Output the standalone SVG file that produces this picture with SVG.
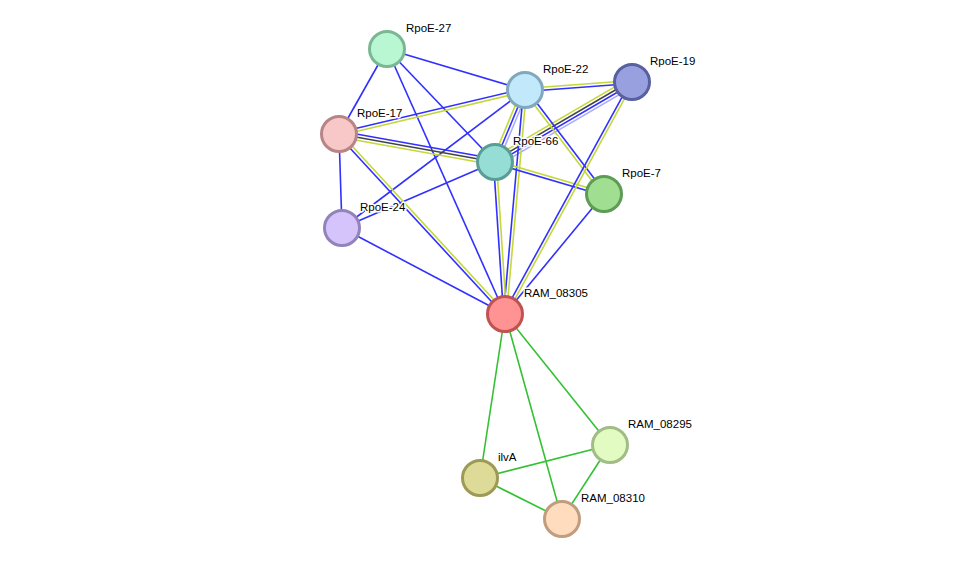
<svg xmlns="http://www.w3.org/2000/svg" width="975" height="565" viewBox="0 0 975 565">
<style>
.e{stroke-width:1.6;fill:none}
.b{stroke:#3030ff}
.y{stroke:#c4d83a}
.k{stroke:#444444}
.l{stroke:#aaaaff}
.g{stroke:#33c133}
.n circle{stroke-width:3}
text{font-family:"Liberation Sans",Arial,sans-serif;font-size:11.5px;fill:#000;stroke:#fff;stroke-width:3;stroke-linejoin:round;paint-order:stroke}
</style>
<rect width="975" height="565" fill="#fff"/>
<g id="edges">
<line class="e b" x1="387" y1="49" x2="339" y2="134"/>
<line class="e b" x1="387" y1="49" x2="525" y2="90"/>
<line class="e b" x1="387" y1="49" x2="495" y2="162"/>
<line class="e b" x1="387" y1="49" x2="505" y2="314"/>
<line class="e b" x1="339" y1="134" x2="342" y2="228"/>
<line class="e b" x1="342" y1="228" x2="525" y2="90"/>
<line class="e b" x1="342" y1="228" x2="495" y2="162"/>
<line class="e b" x1="342" y1="228" x2="505" y2="314"/>
<line class="e b" x1="604" y1="194" x2="505" y2="314"/>
<line class="e b" x1="338.7" y1="132.5" x2="524.7" y2="88.5"/>
<line class="e y" x1="339.3" y1="135.5" x2="525.3" y2="91.5"/>
<line class="e b" x1="339.5" y1="131.05" x2="495.5" y2="159.05"/>
<line class="e k" x1="339" y1="134" x2="495" y2="162"/>
<line class="e y" x1="338.5" y1="136.95" x2="494.5" y2="164.95"/>
<line class="e y" x1="524.9" y1="88.5" x2="631.9" y2="80.5"/>
<line class="e b" x1="525.1" y1="91.5" x2="632.1" y2="83.5"/>
<line class="e y" x1="629.7" y1="78.1" x2="492.7" y2="158.1"/>
<line class="e k" x1="631.2" y1="80.7" x2="494.2" y2="160.7"/>
<line class="e b" x1="632.8" y1="83.3" x2="495.8" y2="163.3"/>
<line class="e l" x1="634.3" y1="85.9" x2="497.3" y2="165.9"/>
<line class="e y" x1="522.2" y1="88.8" x2="492.2" y2="160.8"/>
<line class="e b" x1="525" y1="90" x2="495" y2="162"/>
<line class="e l" x1="527.8" y1="91.2" x2="497.8" y2="163.2"/>
<line class="e b" x1="523.5" y1="89.9" x2="503.5" y2="313.9"/>
<line class="e y" x1="526.5" y1="90.1" x2="506.5" y2="314.1"/>
<line class="e y" x1="523.8" y1="90.9" x2="602.8" y2="194.9"/>
<line class="e b" x1="526.2" y1="89.1" x2="605.2" y2="193.1"/>
<line class="e y" x1="495.4" y1="160.6" x2="604.4" y2="192.6"/>
<line class="e b" x1="494.6" y1="163.4" x2="603.6" y2="195.4"/>
<line class="e b" x1="493.5" y1="162.1" x2="503.5" y2="314.1"/>
<line class="e y" x1="496.5" y1="161.9" x2="506.5" y2="313.9"/>
<line class="e b" x1="630.7" y1="81.3" x2="503.7" y2="313.3"/>
<line class="e y" x1="633.3" y1="82.7" x2="506.3" y2="314.7"/>
<line class="e y" x1="340.1" y1="133" x2="506.1" y2="313"/>
<line class="e b" x1="337.9" y1="135" x2="503.9" y2="315"/>
<line class="e g" x1="505" y1="314" x2="480" y2="478"/>
<line class="e g" x1="505" y1="314" x2="610" y2="445"/>
<line class="e g" x1="505" y1="314" x2="562" y2="519"/>
<line class="e g" x1="480" y1="478" x2="610" y2="445"/>
<line class="e g" x1="480" y1="478" x2="562" y2="519"/>
<line class="e g" x1="610" y1="445" x2="562" y2="519"/>
</g>
<g id="RpoE-27" class="n"><circle cx="387" cy="49" r="17.5" fill="#b9f7d3" stroke="#7ab894"/><text x="406" y="32">RpoE-27</text></g>
<g id="RpoE-22" class="n"><circle cx="525" cy="90" r="17.5" fill="#c2e8fb" stroke="#80a9bd"/><text x="543" y="73">RpoE-22</text></g>
<g id="RpoE-19" class="n"><circle cx="632" cy="82" r="17.5" fill="#98a0e0" stroke="#5860a0"/><text x="650" y="65">RpoE-19</text></g>
<g id="RpoE-17" class="n"><circle cx="339" cy="134" r="17.5" fill="#f8c8c9" stroke="#b88586"/><text x="357" y="117">RpoE-17</text></g>
<g id="RpoE-66" class="n"><circle cx="495" cy="162" r="17.5" fill="#95ddd5" stroke="#589e96"/><text x="513" y="145">RpoE-66</text></g>
<g id="RpoE-7" class="n"><circle cx="604" cy="194" r="17.5" fill="#a0df92" stroke="#5e9c55"/><text x="622" y="177">RpoE-7</text></g>
<g id="RpoE-24" class="n"><circle cx="342" cy="228" r="17.5" fill="#d4c4fb" stroke="#9283bb"/><text x="360" y="211">RpoE-24</text></g>
<g id="RAM_08305" class="n"><circle cx="505" cy="314" r="17.5" fill="#ff9393" stroke="#bf5252"/><text x="524" y="297">RAM_08305</text></g>
<g id="RAM_08295" class="n"><circle cx="610" cy="445" r="17.5" fill="#e1fbc3" stroke="#a1bc84"/><text x="628" y="428">RAM_08295</text></g>
<g id="ilvA" class="n"><circle cx="480" cy="478" r="17.5" fill="#dddb97" stroke="#9d9a55"/><text x="498" y="461">ilvA</text></g>
<g id="RAM_08310" class="n"><circle cx="562" cy="519" r="17.5" fill="#fedcbd" stroke="#bf9d7e"/><text x="581" y="502">RAM_08310</text></g>
</svg>
